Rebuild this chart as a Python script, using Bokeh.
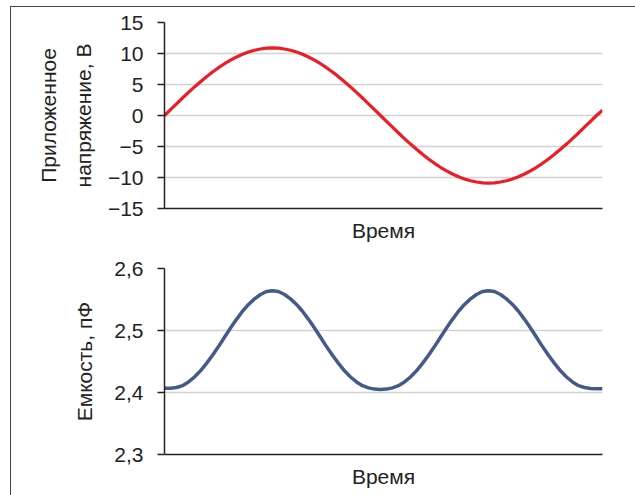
from bokeh.plotting import figure
from bokeh.models import FixedTicker, CustomJSTickFormatter, ColumnDataSource, Range1d
from bokeh.layouts import column
from bokeh.embed import file_html
from bokeh.resources import INLINE

# time (arbitrary units)
time = [0, 0.5, 1, 1.5, 2, 2.5, 3, 3.5, 4, 4.5, 5, 5.5, 6, 6.5, 7, 7.5, 8, 8.5, 9,
        9.5, 10, 10.5, 11, 11.5, 12, 12.5, 13, 13.5, 14, 14.5, 15, 15.5, 16, 16.5, 17, 17.5, 18,
        18.5, 19, 19.5, 20, 20.5, 21, 21.5, 22, 22.5, 23, 23.5, 24, 24.5, 25, 25.5, 26, 26.5, 27,
        27.5, 28, 28.5, 29, 29.5, 30, 30.5, 31, 31.5, 32, 32.5, 33, 33.5, 34, 34.5, 35, 35.5, 36,
        36.5]

# applied voltage, V
voltage = [0, 0.95, 1.89, 2.82, 3.73, 4.61, 5.45, 6.25, 7.01, 7.71, 8.35, 8.93, 9.44, 9.88, 10.24, 10.53, 10.73, 10.86, 10.9,
           10.86, 10.73, 10.53, 10.24, 9.88, 9.44, 8.93, 8.35, 7.71, 7.01, 6.25, 5.45, 4.61, 3.73, 2.82, 1.89, 0.95, 0,
           -0.95, -1.89, -2.82, -3.73, -4.61, -5.45, -6.25, -7.01, -7.71, -8.35, -8.93, -9.44, -9.88, -10.24, -10.53, -10.73, -10.86, -10.9,
           -10.86, -10.73, -10.53, -10.24, -9.88, -9.44, -8.93, -8.35, -7.71, -7.01, -6.25, -5.45, -4.61, -3.73, -2.82, -1.89, -0.95, 0,
           0.85]

# capacitance, pF
capacitance = [2.407, 2.407, 2.408, 2.411, 2.417, 2.425, 2.435, 2.447, 2.460, 2.474, 2.489, 2.504, 2.518, 2.531, 2.542, 2.551, 2.558, 2.563, 2.564,
               2.563, 2.558, 2.551, 2.542, 2.531, 2.518, 2.504, 2.489, 2.474, 2.460, 2.447, 2.435, 2.425, 2.417, 2.411, 2.4075, 2.4055, 2.405,
               2.4055, 2.4075, 2.411, 2.417, 2.425, 2.435, 2.447, 2.460, 2.474, 2.489, 2.504, 2.518, 2.531, 2.542, 2.551, 2.558, 2.563, 2.564,
               2.563, 2.558, 2.551, 2.542, 2.531, 2.518, 2.504, 2.489, 2.474, 2.460, 2.447, 2.435, 2.425, 2.417, 2.411, 2.408, 2.4065, 2.406,
               2.406]

v_ticks = [-15, -10, -5, 0, 5, 10, 15]
c_ticks = [2.3, 2.4, 2.5, 2.6]

x_label = "Время"
v_label = "Приложенное\nнапряжение, В"
c_label = "Емкость, пФ"

FONT = "Liberation Sans"
FS = "21px"
DARK = "#222222"

src = ColumnDataSource(dict(t=time, v=voltage, c=capacitance))


def make_fig(height, top, y0, y1, ticks, fmt_code, ylabel, label_standoff):
    p = figure(width=624, height=height, output_backend="svg", toolbar_location=None,
               x_range=Range1d(0, 36.5), y_range=Range1d(y0, y1),
               min_border_left=153, min_border_right=33, min_border_top=top,
               min_border_bottom=height - top - 186)
    p.outline_line_color = None
    p.xgrid.visible = False
    p.ygrid.grid_line_color = "#d2d2d2"
    p.ygrid.grid_line_width = 1.5
    p.yaxis.ticker = FixedTicker(ticks=ticks)
    p.yaxis.formatter = CustomJSTickFormatter(code=fmt_code)
    p.ygrid.ticker = FixedTicker(ticks=ticks)
    for ax in (p.xaxis[0], p.yaxis[0]):
        ax.axis_line_color = DARK
        ax.axis_line_width = 1.5
        ax.major_tick_line_color = DARK
        ax.major_tick_line_width = 1.5
        ax.minor_tick_line_color = None
        ax.major_label_text_font = FONT
        ax.major_label_text_font_size = FS
        ax.major_label_text_color = DARK
        ax.axis_label_text_font = FONT
        ax.axis_label_text_font_size = FS
        ax.axis_label_text_font_style = "normal"
        ax.axis_label_text_color = DARK
    p.yaxis.major_tick_out = 7
    p.yaxis.major_tick_in = 0
    p.yaxis.major_label_standoff = 14
    p.yaxis.axis_label = ylabel
    p.yaxis.axis_label_standoff = label_standoff
    p.yaxis.axis_label_text_line_height = 1.5
    p.xaxis.ticker = FixedTicker(ticks=[])
    p.xaxis.major_tick_out = 0
    p.xaxis.major_tick_in = 0
    p.xaxis.axis_label = x_label
    p.xaxis.axis_label_standoff = 10
    return p


p1 = make_fig(243, 15, -15, 15, v_ticks,
              "return tick < 0 ? '\\u2212' + Math.abs(tick) : String(tick);",
              v_label, 10)
p1.line("t", "v", source=src, line_color="#ee1c25", line_width=3.2, line_join="round")

p2 = make_fig(245, 18, 2.3, 2.6, c_ticks,
              "return tick.toFixed(1).replace('.', ',');",
              c_label, 15)
p2.line("t", "c", source=src, line_color="#445a8b", line_width=3.5, line_join="round")

layout = column(p1, p2, margin=(6, 0, 0, 10),
                styles={"border-left": "1px solid #444", "border-top": "1px solid #444"})

open("out.html", "w").write(file_html(layout, INLINE))
